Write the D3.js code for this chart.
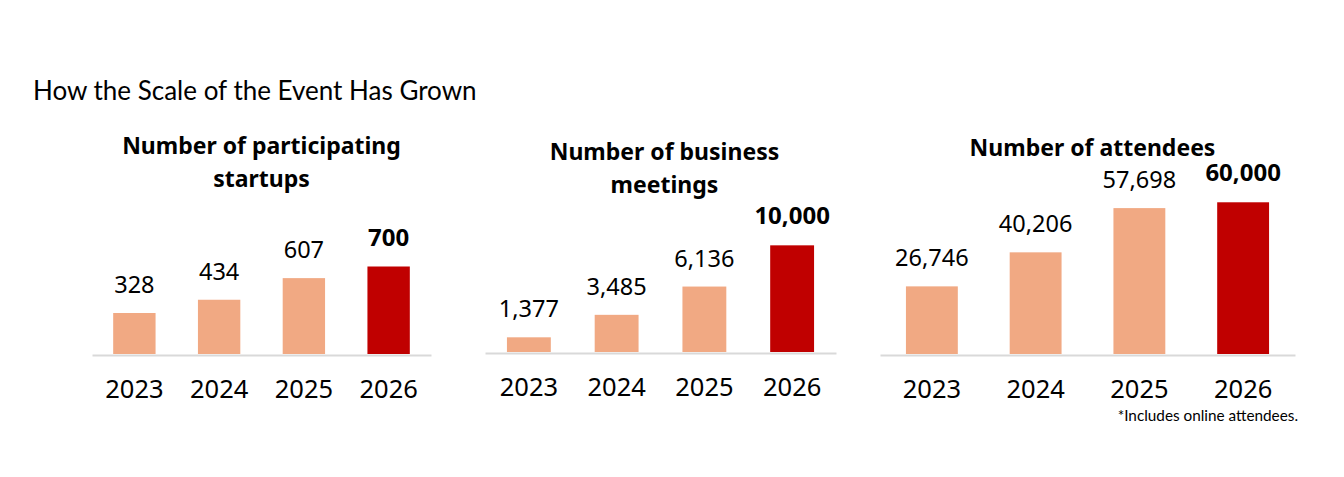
<!DOCTYPE html>
<html>
<head>
<meta charset="utf-8">
<script src="https://cdn.jsdelivr.net/npm/d3@7"></script>
<style>
  html, body { margin: 0; padding: 0; background: #fff; }
  svg { display: block; }
</style>
</head>
<body>
<svg id="chart" width="1344" height="477"></svg>
<script>
// ---- data ----
const years = ["2023", "2024", "2025", "2026"];
const startups = [328, 434, 607, 700];
const meetings = [1377, 3485, 6136, 10000];
const attendees = [26746, 40206, 57698, 60000];
const mainTitle = "How the Scale of the Event Has Grown";
const panelTitles = [
  ["Number of participating", "startups"],
  ["Number of business", "meetings"],
  ["Number of attendees"]
];
const footnote = "*Includes online attendees.";

// ---- layout ----
const panels = [
  { values: startups,  title: panelTitles[0], x0: 92,  x1: 431,  base: 354, yMax: 800,   h: 100, titleDx: 0, titleY: 154 },
  { values: meetings,  title: panelTitles[1], x0: 485, x1: 836,  base: 352, yMax: 12000, h: 128, titleDx: 4, titleY: 160 },
  { values: attendees, title: panelTitles[2], x0: 880, x1: 1295, base: 354, yMax: 70000, h: 177, titleDx: 5, titleY: 156 }
];
const light = "#F1A983", dark = "#C00000";
const numFont = "'Noto Sans', sans-serif";
const titleFont = "Lato, 'Noto Sans', sans-serif";
const boldFont = "'Noto Sans', sans-serif";
const fmt = d3.format(",");

const svg = d3.select("#chart");

svg.append("text")
  .attr("x", 33).attr("y", 100)
  .attr("font-family", titleFont).attr("font-size", 26)
  .attr("fill", "#000")
  .text(mainTitle);

panels.forEach(p => {
  const g = svg.append("g");
  const x = d3.scaleBand().domain(years).range([p.x0, p.x1])
    .paddingInner(0.5).paddingOuter(0.25);
  const y = d3.scaleLinear().domain([0, p.yMax]).range([p.base, p.base - p.h]);
  const data = years.map((yr, i) => ({ yr, v: p.values[i], last: i === years.length - 1 }));

  // title
  const cx = (p.x0 + p.x1) / 2 + p.titleDx;
  p.title.forEach((line, i) => {
    g.append("text")
      .attr("x", cx).attr("y", p.titleY + i * 33)
      .attr("text-anchor", "middle")
      .attr("font-family", boldFont).attr("font-weight", 700).attr("font-size", 23)
      .attr("fill", "#000")
      .text(line);
  });

  // bars
  g.selectAll("rect.bar").data(data).join("rect")
    .attr("class", "bar")
    .attr("x", d => x(d.yr))
    .attr("width", x.bandwidth())
    .attr("y", d => y(d.v))
    .attr("height", d => y(0) - y(d.v))
    .attr("fill", d => d.last ? dark : light);

  // axis line
  const axis = d3.axisBottom(x).tickSize(0).tickPadding(0);
  const ax = g.append("g").attr("transform", `translate(0,${p.base + 1})`).call(axis);
  ax.select(".domain").attr("stroke", "#D9D9D9").attr("stroke-width", 2);
  ax.selectAll(".tick text")
    .attr("y", 43).attr("dy", 0)
    .attr("font-family", numFont).attr("font-size", 25.5)
    .attr("fill", "#000");

  // value labels
  g.selectAll("text.val").data(data).join("text")
    .attr("class", "val")
    .attr("x", d => x(d.yr) + x.bandwidth() / 2)
    .attr("y", d => y(d.v) - (d.last ? 21 : 20))
    .attr("text-anchor", "middle")
    .attr("font-family", numFont)
    .attr("font-size", d => d.last ? 24 : 23.5)
    .attr("font-weight", d => d.last ? 700 : 400)
    .attr("fill", "#000")
    .text(d => fmt(d.v));
});

svg.append("text")
  .attr("x", 1298).attr("y", 421)
  .attr("text-anchor", "end")
  .attr("font-family", titleFont).attr("font-size", 15.3)
  .attr("fill", "#000")
  .text(footnote);
</script>
</body>
</html>
